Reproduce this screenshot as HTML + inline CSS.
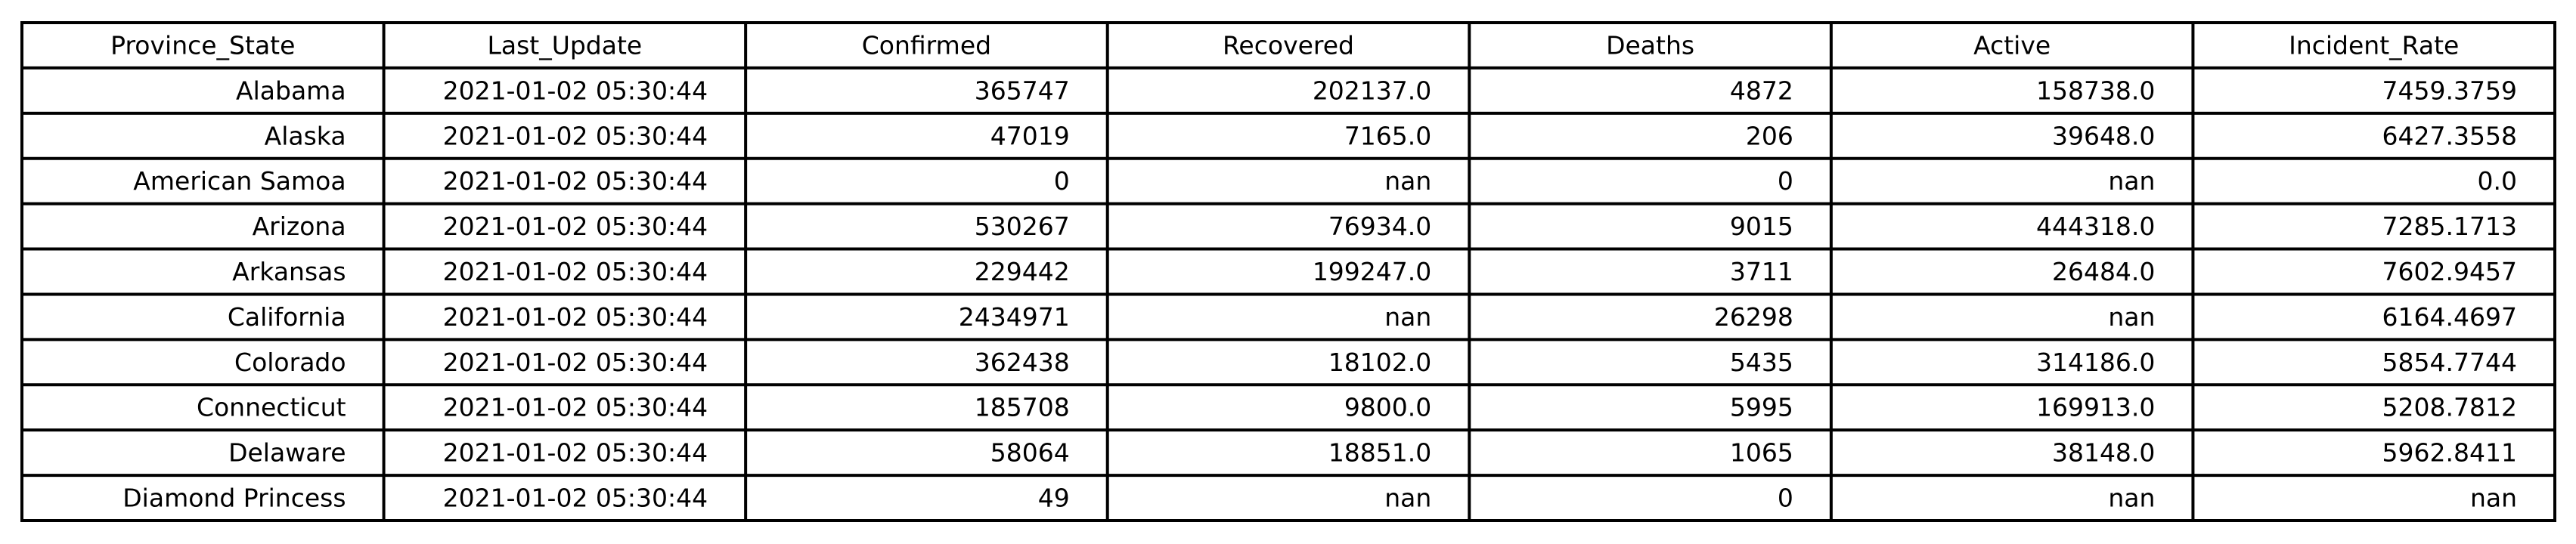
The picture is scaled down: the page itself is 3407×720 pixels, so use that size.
<!DOCTYPE html>
<html><head><meta charset="utf-8">
<style>
html,body{margin:0;padding:0;background:#fff;}
svg{display:block;}
text{font-family:"DejaVu Sans","Liberation Sans",sans-serif;font-size:33px;fill:#000;}
</style></head>
<body>
<svg id="tbl" width="3407" height="720" viewBox="0 0 3407 720" xmlns="http://www.w3.org/2000/svg"></svg>
<script>
const headers = ["Province_State","Last_Update","Confirmed","Recovered","Deaths","Active","Incident_Rate"];
const states = ["Alabama","Alaska","American Samoa","Arizona","Arkansas","California","Colorado","Connecticut","Delaware","Diamond Princess"];
const lastUpdate = ["2021-01-02 05:30:44","2021-01-02 05:30:44","2021-01-02 05:30:44","2021-01-02 05:30:44","2021-01-02 05:30:44","2021-01-02 05:30:44","2021-01-02 05:30:44","2021-01-02 05:30:44","2021-01-02 05:30:44","2021-01-02 05:30:44"];
const confirmed = ["365747","47019","0","530267","229442","2434971","362438","185708","58064","49"];
const recovered = ["202137.0","7165.0","nan","76934.0","199247.0","nan","18102.0","9800.0","18851.0","nan"];
const deaths = ["4872","206","0","9015","3711","26298","5435","5995","1065","0"];
const active = ["158738.0","39648.0","nan","444318.0","26484.0","nan","314186.0","169913.0","38148.0","nan"];
const incidentRate = ["7459.3759","6427.3558","0.0","7285.1713","7602.9457","6164.4697","5854.7744","5208.7812","5962.8411","nan"];

const svg = document.getElementById('tbl');
const NS = "http://www.w3.org/2000/svg";
const L = 29, R = 3379, T = 30, B = 689;
const cols = [states, lastUpdate, confirmed, recovered, deaths, active, incidentRate];
const nRows = states.length + 1;
const cw = (R - L) / headers.length;
const rh = (B - T) / nRows;
const colX = i => L + i * cw;
const rowY = j => T + j * rh;

function txt(x, y, s, anchor, name) {
  const t = document.createElementNS(NS, 'text');
  t.setAttribute('x', x);
  t.setAttribute('y', y);
  t.setAttribute('text-anchor', anchor);
  t.setAttribute('dominant-baseline', 'central');
  t.textContent = s;
  
  
  svg.appendChild(t);
}
headers.forEach((h, i) => {
  txt(colX(i) + cw / 2, rowY(0) + rh / 2, h, 'middle', 'header-' + h.toLowerCase().replace(/_/g, '-'));
});
cols.forEach((col, i) => {
  col.forEach((v, j) => {
    txt(colX(i + 1) - 50, rowY(j + 1) + rh / 2, v, 'end', 'cell-' + headers[i].toLowerCase().replace(/_/g, '-') + '-' + j);
  });
});
function line(x1, y1, x2, y2, name) {
  const l = document.createElementNS(NS, 'line');
  l.setAttribute('x1', x1); l.setAttribute('y1', y1);
  l.setAttribute('x2', x2); l.setAttribute('y2', y2);
  l.setAttribute('stroke', '#000');
  l.setAttribute('stroke-width', '4');
  l.setAttribute('stroke-linecap', 'square');
  
  
  svg.appendChild(l);
}
for (let j = 0; j <= nRows; j++) line(L, rowY(j), R, rowY(j), 'row-rule-' + j);
for (let i = 0; i <= headers.length; i++) line(colX(i), T, colX(i), B, 'column-rule-' + i);
</script>
</body></html>
